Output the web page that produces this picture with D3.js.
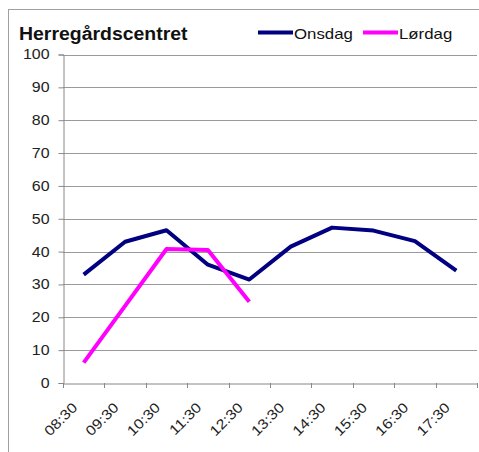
<!DOCTYPE html>
<html><head><meta charset="utf-8">
<script src="https://cdn.jsdelivr.net/npm/d3@7"></script>
<style>body{margin:0;background:#fff}svg{display:block}</style>
</head><body>
<script>
const categories = ["08:30","09:30","10:30","11:30","12:30","13:30","14:30","15:30","16:30","17:30"];
const onsdag = [33, 43, 46.5, 36, 31.5, 41.5, 47.3, 46.4, 43.2, 34.2];
const lordag = [6.2, 23.5, 40.8, 40.5, 24.7];
const yTicks = [0,10,20,30,40,50,60,70,80,90,100];
const seriesNames = ["Onsdag","Lørdag"];
const colors = ["#000080","#FF00FF"];

(function(){
const W = 479, H = 452;
const svg = d3.select("body").append("svg").attr("width", W).attr("height", H);
const font = "Liberation Sans, Arial, sans-serif";
function stretch(sel, f){
  sel.each(function(){
    const w = this.getComputedTextLength();
    d3.select(this).attr("textLength", w*f).attr("lengthAdjust","spacingAndGlyphs");
  });
}

// frame
svg.append("rect").attr("x",8.5).attr("y",9.5).attr("width",W+10).attr("height",H+10)
  .attr("fill","none").attr("stroke","#a0a0a0").attr("stroke-width",1);

const pl = 63, pr = 477, pt = 54.5, pb = 383;
const x = d3.scaleBand().domain(categories).range([pl, pr]);
const y = d3.scaleLinear().domain([0,100]).range([pb, pt]);

// gridlines
svg.append("g").selectAll("line").data(yTicks.filter(d=>d>0)).join("line")
  .attr("x1", pl).attr("x2", pr)
  .attr("y1", d=>Math.round(y(d))+0.5).attr("y2", d=>Math.round(y(d))+0.5)
  .attr("stroke","#9a9a9a").attr("stroke-width",1);

// y axis
const yAxis = svg.append("g").attr("transform",`translate(${pl+0.5},0)`)
  .call(d3.axisLeft(y).tickValues(yTicks).tickSize(5).tickPadding(9).tickFormat(d3.format("d")));
yAxis.select(".domain").attr("stroke","#888");
yAxis.selectAll(".tick line").attr("stroke","#888");
const yt = yAxis.selectAll("text").attr("font-family",font).attr("font-size",14).attr("fill","#222");
stretch(yt, 1.14);

// x axis
const xAxis = svg.append("g").attr("transform",`translate(0,${pb+0.5})`)
  .call(d3.axisBottom(x).tickSize(0).tickFormat(""));
xAxis.select(".domain").attr("stroke","#888");
xAxis.selectAll(".tick").remove();
const edges = categories.map(c=>x(c)).concat([pr]);
svg.append("g").selectAll("line").data(edges).join("line")
  .attr("x1",d=>Math.round(d)+0.5).attr("x2",d=>Math.round(d)+0.5)
  .attr("y1",pb).attr("y2",pb+5).attr("stroke","#888");

const xt = svg.append("g").selectAll("text").data(categories).join("text")
  .attr("transform", d=>`translate(${x(d)+x.bandwidth()/2-9},${pb+22}) rotate(-45)`)
  .attr("text-anchor","end").attr("dy","0.35em")
  .attr("font-family",font).attr("font-size",14).attr("fill","#222")
  .text(d=>d);
stretch(xt, 1.14);

// lines
const line = d3.line().x((d,i)=>x(categories[i])+x.bandwidth()/2).y(d=>y(d));
[onsdag, lordag].forEach((s,i)=>{
  svg.append("path").datum(s).attr("d",line).attr("fill","none")
    .attr("stroke",colors[i]).attr("stroke-width",4).attr("stroke-linejoin","round");
});

// title
const tt = svg.append("text").attr("x",19).attr("y",40).attr("font-family",font)
  .attr("font-weight","bold").attr("font-size",18).attr("fill","#111").text("Herregårdscentret");
stretch(tt, 1.08);

// legend
const legX = [258, 363];
seriesNames.forEach((n,i)=>{
  svg.append("line").attr("x1",legX[i]).attr("x2",legX[i]+35).attr("y1",32.5).attr("y2",32.5)
    .attr("stroke",colors[i]).attr("stroke-width",4);
  const lt = svg.append("text").attr("x",legX[i]+36).attr("y",39).attr("font-family",font)
    .attr("font-size",15).attr("fill","#111").text(n);
  stretch(lt, 1.12);
});
})();
</script>
</body></html>
